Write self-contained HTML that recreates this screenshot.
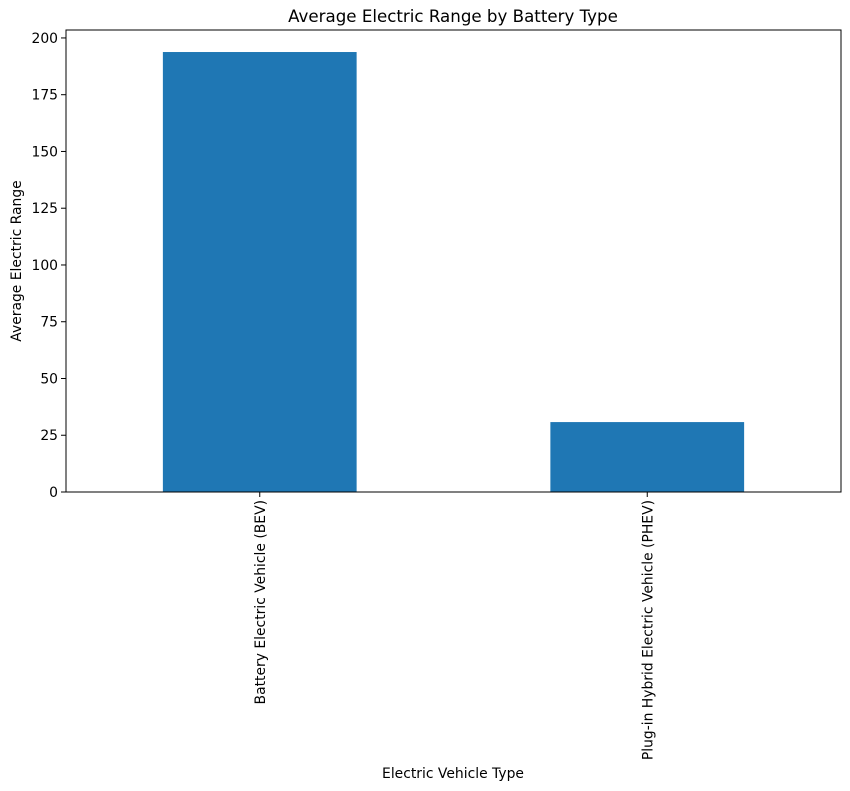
<!DOCTYPE html>
<html><head><meta charset="utf-8"><style>
body{margin:0;background:#fff;}
svg{display:block;font-family:"DejaVu Sans","Liberation Sans",sans-serif;}
</style></head><body>
<svg id="chart" width="850" height="791" viewBox="0 0 850 791">
<text x="453" y="22" text-anchor="middle" font-size="16.67">Average Electric Range by Battery Type</text>
<text x="453" y="778" text-anchor="middle" font-size="13.9">Electric Vehicle Type</text>
<text transform="translate(21,261) rotate(-90)" text-anchor="middle" font-size="13.9">Average Electric Range</text>
<g id="bars"></g><g id="yticks"></g><g id="xticks"></g>
<rect x="66" y="30" width="775" height="462" fill="none" stroke="#000" stroke-width="1"/>
</svg>
<script>
const categories = ["Battery Electric Vehicle (BEV)", "Plug-in Hybrid Electric Vehicle (PHEV)"];
const rangeValues = [193.8, 30.8];
const yTickValues = [0, 25, 50, 75, 100, 125, 150, 175, 200];

const L=66,R=841,T=30,B=492,YMAX=203.5;
const NS="http://www.w3.org/2000/svg";
function y(v){return B-(v/YMAX)*(B-T);}
function xc(i){const u=(R-L)/categories.length;return L+u*(i+0.5);}
const bw=(R-L)/categories.length*0.5;
const gb=document.getElementById('bars'),gy=document.getElementById('yticks'),gx=document.getElementById('xticks');
function mk(tag,attrs,parent){const e=document.createElementNS(NS,tag);for(const k in attrs)e.setAttribute(k,attrs[k]);parent.appendChild(e);return e;}
rangeValues.forEach((v,i)=>{
  const r=mk('rect',{x:xc(i)-bw/2,y:y(v),width:bw,height:B-y(v),fill:'#1f77b4'},gb);
  
  
});
yTickValues.forEach(v=>{
  const l=mk('line',{x1:L-5,x2:L,y1:y(v),y2:y(v),stroke:'#000'},gy);
  
  
  const t=mk('text',{x:L-8,y:y(v)+5,'text-anchor':'end','font-size':13.9},gy);
  t.textContent=v;
  
  
});
categories.forEach((c,i)=>{
  const x=xc(i);
  const l=mk('line',{x1:x,x2:x,y1:B,y2:B+5,stroke:'#000'},gx);
  
  
  const t=mk('text',{transform:`translate(${x+5},${B+8}) rotate(-90)`,'text-anchor':'end','font-size':13.9},gx);
  t.textContent=c;
  
  
});
</script>
</body></html>
